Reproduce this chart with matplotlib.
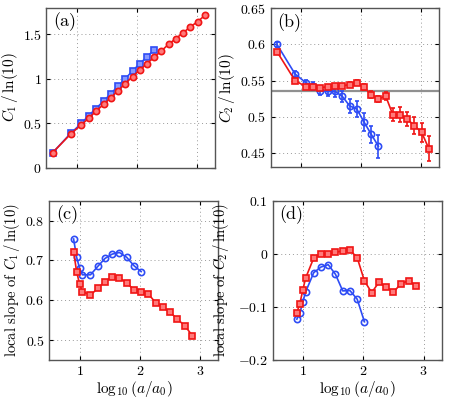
import numpy as np
import matplotlib
matplotlib.use("Agg")
import matplotlib.pyplot as plt
from matplotlib.ticker import FuncFormatter

plt.rcParams["font.family"] = ["cmr10", "DejaVu Serif"]
plt.rcParams["mathtext.fontset"] = "cm"
plt.rcParams["axes.unicode_minus"] = False

# x = log10(a/a0) for C1, C2
x_c = [0.6, 0.9, 1.08, 1.2, 1.32, 1.45, 1.57, 1.69, 1.81, 1.93,
       2.05, 2.17, 2.29, 2.41, 2.53, 2.65, 2.77, 2.89, 3.01, 3.13]

# panel (a): C1/ln(10)
c1_red = [0.165, 0.376, 0.481, 0.553, 0.632, 0.711, 0.786, 0.865, 0.944, 1.023,
          1.098, 1.169, 1.241, 1.312, 1.387, 1.451, 1.515, 1.583, 1.639, 1.711]
c1_blue = [0.165, 0.383, 0.496, 0.583, 0.662, 0.748, 0.831, 0.917, 1.0, 1.086,
           1.169, 1.244, 1.327]

# panel (b): C2/ln(10) with errors
c2_red = [0.590, 0.550, 0.5417, 0.5408, 0.540, 0.5417, 0.5422, 0.5427, 0.5445, 0.5472,
          0.5408, 0.5307, 0.5243, 0.5289, 0.5028, 0.5028, 0.4968, 0.4876, 0.4784, 0.456]
c2_red_err = [0.002, 0.002, 0.002, 0.002, 0.002, 0.002, 0.002, 0.0025, 0.003, 0.0037,
              0.0045, 0.0045, 0.0045, 0.0055, 0.009, 0.010, 0.010, 0.0115, 0.013, 0.0175]
c2_blue = [0.600, 0.5592, 0.5472, 0.5427, 0.5362, 0.5349, 0.5349, 0.528, 0.5151, 0.5106,
           0.4927, 0.4757, 0.4592]
c2_blue_err = [0.003, 0.004, 0.004, 0.0055, 0.006, 0.0065, 0.008, 0.008, 0.0095, 0.0115,
               0.013, 0.0115, 0.016]
c2_ref = 0.5355

# local slopes
x_s = [0.90, 0.95, 1.0, 1.045, 1.18, 1.30, 1.42, 1.54, 1.66, 1.78,
       1.90, 2.02, 2.14, 2.26, 2.38, 2.50, 2.62, 2.75, 2.87]
s1_red = [0.722, 0.672, 0.640, 0.622, 0.613, 0.630, 0.647, 0.659, 0.657, 0.643,
          0.627, 0.622, 0.616, 0.594, 0.582, 0.570, 0.553, 0.535, 0.511]
s1_blue = [0.754, 0.708, 0.680, 0.664, 0.664, 0.685, 0.705, 0.716, 0.720, 0.708,
           0.687, 0.672]
s2_red = [-0.111, -0.094, -0.068, -0.046, -0.008, 0.0, 0.0, 0.0025, 0.0056, 0.0069,
          -0.0075, -0.0514, -0.0734, -0.0539, -0.0633, -0.0727, -0.0571, -0.0508, -0.0602]
s2_blue = [-0.1235, -0.1116, -0.0909, -0.0721, -0.0357, -0.0251, -0.0207, -0.0389,
           -0.0702, -0.0696, -0.0859, -0.1285]

red = "#f01515"
blue = "#2e4cf5"
red_face = "#ff7a7a"
blue_face = "#8898ff"

fig = plt.figure(figsize=(4.63, 3.99), dpi=100)
ax_a = fig.add_axes([0.1004, 0.5802, 0.3639, 0.401])
ax_b = fig.add_axes([0.5853, 0.5807, 0.3629, 0.3985])
ax_c = fig.add_axes([0.1069, 0.0977, 0.3646, 0.3992])
ax_d = fig.add_axes([0.589, 0.0985, 0.365, 0.3985])

nb = len(c1_blue)
ns = len(s1_blue)

# (a)
ax_a.plot(x_c[:nb], c1_blue, "-s", color=blue, mfc=blue_face, mec=blue, ms=4, lw=1.2, mew=1.2)
ax_a.plot(x_c, c1_red, "-o", color=red, mfc=red_face, mec=red, ms=4.5, lw=1.2, mew=1.2)
ax_a.set_ylim(0, 1.8)
ax_a.set_yticks([0, 0.5, 1, 1.5])
ax_a.set_ylabel(r"$C_1\,/\,\ln(10)$", fontsize=11, labelpad=2)

# (b)
ax_b.axhline(c2_ref, color="#909090", lw=1.6, zorder=1)
ax_b.errorbar(x_c[:nb], c2_blue, yerr=c2_blue_err, fmt="-o", color=blue, mfc="none",
              mec=blue, ms=4.5, lw=1.2, mew=1.2, elinewidth=1.2, capsize=1.5)
ax_b.errorbar(x_c, c2_red, yerr=c2_red_err, fmt="-s", color=red, mfc=red_face,
              mec=red, ms=4, lw=1.2, mew=1.2, elinewidth=1.2, capsize=1.5)
ax_b.set_ylim(0.43, 0.65)
ax_b.set_yticks([0.45, 0.5, 0.55, 0.6, 0.65])
ax_b.set_ylabel(r"$C_2\,/\,\ln(10)$", fontsize=11, labelpad=2)

# (c)
ax_c.plot(x_s[:ns], s1_blue, "-o", color=blue, mfc="none", mec=blue, ms=4.5, lw=1.2, mew=1.2)
ax_c.plot(x_s, s1_red, "-s", color=red, mfc=red_face, mec=red, ms=4, lw=1.2, mew=1.2)
ax_c.set_ylim(0.45, 0.85)
ax_c.set_yticks([0.5, 0.6, 0.7, 0.8])
ax_c.set_ylabel(r"local slope of $C_1\,/\,\ln(10)$", fontsize=10.5, labelpad=2)

# (d)
ax_d.plot(x_s[:ns], s2_blue, "-o", color=blue, mfc="none", mec=blue, ms=4.5, lw=1.2, mew=1.2)
ax_d.plot(x_s, s2_red, "-s", color=red, mfc=red_face, mec=red, ms=4, lw=1.2, mew=1.2)
ax_d.set_ylim(-0.2, 0.1)
ax_d.set_yticks([-0.2, -0.1, 0, 0.1])
ax_d.set_ylabel(r"local slope of $C_2\,/\,\ln(10)$", fontsize=10.5, labelpad=5)

fmt = FuncFormatter(lambda v, p: "$%g$" % round(v, 3))
for ax, lab in zip([ax_a, ax_b, ax_c, ax_d], ["(a)", "(b)", "(c)", "(d)"]):
    ax.set_xlim(0.5, 3.3)
    ax.set_xticks([1, 2, 3])
    ax.yaxis.set_major_formatter(fmt)
    ax.xaxis.set_major_formatter(fmt)
    ax.grid(True, linestyle=(0, (1, 3)), color="#999999", lw=0.7)
    ax.tick_params(direction="in", top=True, right=True, length=3, labelsize=10)
    for s in ax.spines.values():
        s.set_color("#555555")
        s.set_linewidth(1.0)
    ax.text(0.04, 0.97, lab, transform=ax.transAxes, ha="left", va="top", fontsize=13)

for ax in [ax_a, ax_b]:
    ax.tick_params(labelbottom=False)
for ax in [ax_c, ax_d]:
    ax.set_xlabel(r"$\log_{10}(a/a_0)$", fontsize=11, labelpad=1)

fig.savefig("out.png", dpi=100)
